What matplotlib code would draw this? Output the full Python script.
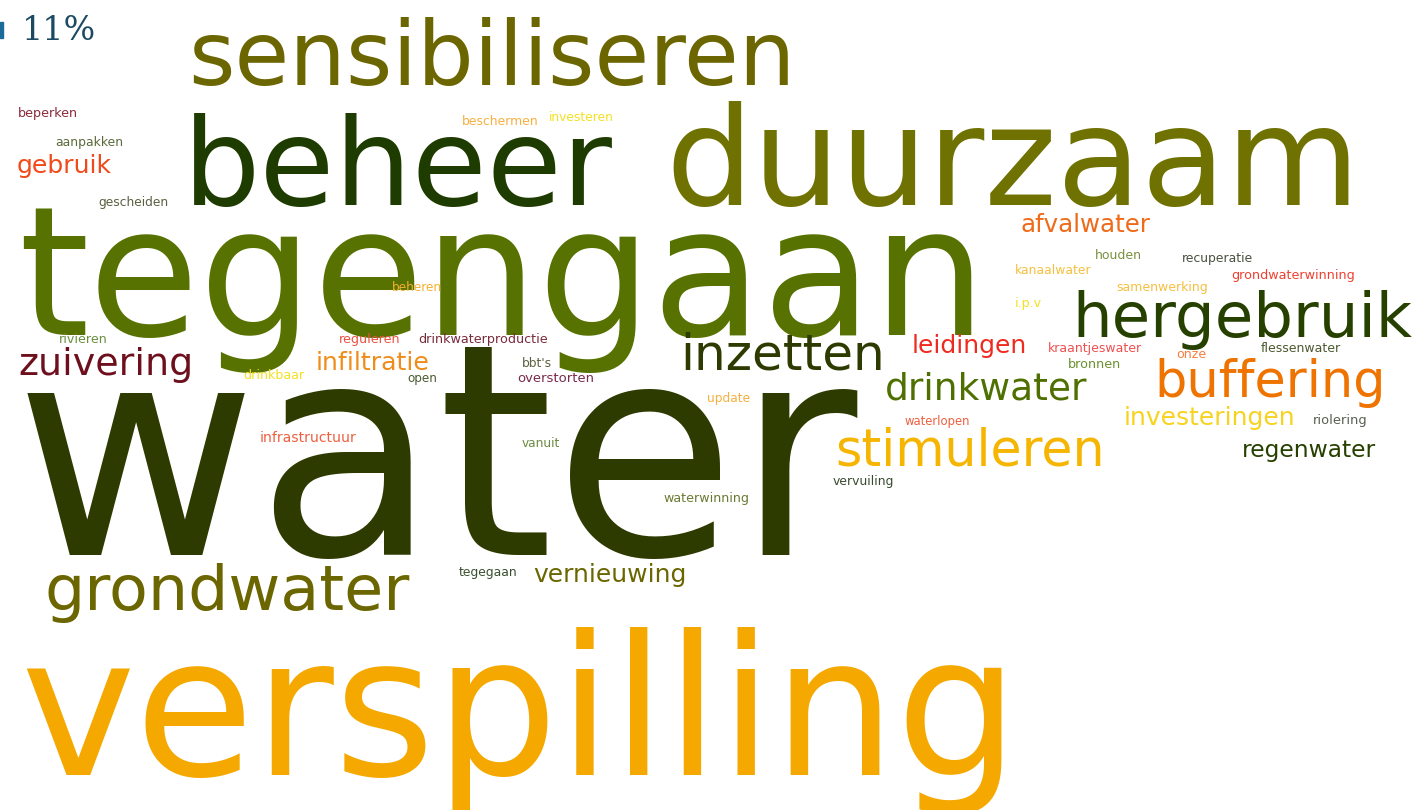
import matplotlib.pyplot as plt
from matplotlib.patches import Rectangle

# word cloud data: word, colour
words = ["sensibiliseren", "beheer", "duurzaam", "tegengaan", "hergebruik",
         "water", "verspilling", "grondwater", "inzetten", "drinkwater",
         "buffering", "stimuleren", "afvalwater", "leidingen", "investeringen",
         "regenwater", "zuivering", "infiltratie", "vernieuwing", "gebruik",
         "beperken", "aanpakken", "gescheiden", "beschermen", "investeren",
         "houden", "recuperatie", "kanaalwater", "grondwaterwinning",
         "samenwerking", "i.p.v", "beheren", "rivieren", "reguleren",
         "drinkwaterproductie", "bbt's", "overstorten", "drinkbaar", "open",
         "kraantjeswater", "onze", "flessenwater", "bronnen", "update",
         "riolering", "waterlopen", "infrastructuur", "vanuit", "vervuiling",
         "waterwinning", "tegegaan"]
colors = ["#6b6600", "#1f3c00", "#6f7200", "#577200", "#264000",
          "#2e3b00", "#f5a800", "#6b6600", "#2e3b00", "#4f7000",
          "#ef7300", "#f5b500", "#ef6b1a", "#ef2a1f", "#f7d31f",
          "#264000", "#6e0f1e", "#f08c1a", "#6b6600", "#f04a1a",
          "#8a2a3a", "#5a6a3a", "#5a6040", "#f5b040", "#f5e020",
          "#7a9040", "#4a5040", "#f5c040", "#ee4030",
          "#f5c040", "#f5e020", "#f5b030", "#6a9040", "#ee5040",
          "#7a2a3a", "#5a6040", "#7a2a4a", "#f5e020", "#4a5a30",
          "#ee5050", "#f58040", "#4a5a30", "#6a9030", "#f5b040",
          "#5a6050", "#ee6040", "#ee6040", "#6a8a40", "#3a4a30",
          "#6a7a30", "#3a5030"]

# layout in pixels: left edge, right edge, baseline
x_left = [188, 183, 665, 18, 1072, 15, 20, 45, 680, 885,
          1154, 835, 1021, 912, 1124, 1242, 18, 316, 533, 17,
          18, 55, 98, 462, 549, 1095, 1182, 1015, 1231,
          1116, 1015, 392, 59, 339, 418, 522, 517, 243, 407,
          1048, 1176, 1261, 1068, 707, 1313, 905, 260, 522, 833,
          663, 459]
x_right = [795, 612, 1362, 985, 1412, 858, 1020, 410, 885, 1088,
           1385, 1105, 1151, 1027, 1295, 1376, 193, 430, 686, 112,
           78, 123, 168, 539, 614, 1142, 1253, 1091, 1354,
           1208, 1042, 442, 107, 400, 547, 552, 593, 304, 437,
           1142, 1206, 1341, 1121, 750, 1367, 970, 356, 560, 894,
           748, 518]
baseline = [85, 205, 205, 335, 337, 555, 775, 610, 370, 400,
            397, 465, 232, 353, 425, 457, 375, 370, 582, 173,
            117, 146, 206, 125, 121, 259, 262, 274, 279,
            291, 307, 291, 343, 343, 343, 367, 382, 379, 382,
            352, 358, 352, 368, 402, 424, 425, 442, 447, 485,
            502, 576]

W, H = 1421, 810
fig = plt.figure(figsize=(W / 100, H / 100), dpi=100)
ax = fig.add_axes([0, 0, 1, 1])
ax.set_xlim(0, W)
ax.set_ylim(H, 0)
ax.axis('off')

base_size = 20
texts = []
for w, c, x, y in zip(words, colors, x_left, baseline):
    t = ax.text(x, y, w, fontsize=base_size, color=c, ha='left',
                va='baseline', family='DejaVu Sans')
    texts.append(t)

# scale each word so its width matches the cloud
fig.canvas.draw()
r = fig.canvas.get_renderer()
for t, x0, x1 in zip(texts, x_left, x_right):
    bb = t.get_window_extent(renderer=r)
    t.set_fontsize(base_size * (x1 - x0) / bb.width)

# percentage label top-left
ax.add_patch(Rectangle((0, 22), 3, 16, color="#1a6a9a"))
ax.text(22, 40, "11%", fontsize=24, color="#1d4a63", ha='left',
        va='baseline', family='DejaVu Serif')

fig.savefig("out.png", dpi=100, facecolor='white')
